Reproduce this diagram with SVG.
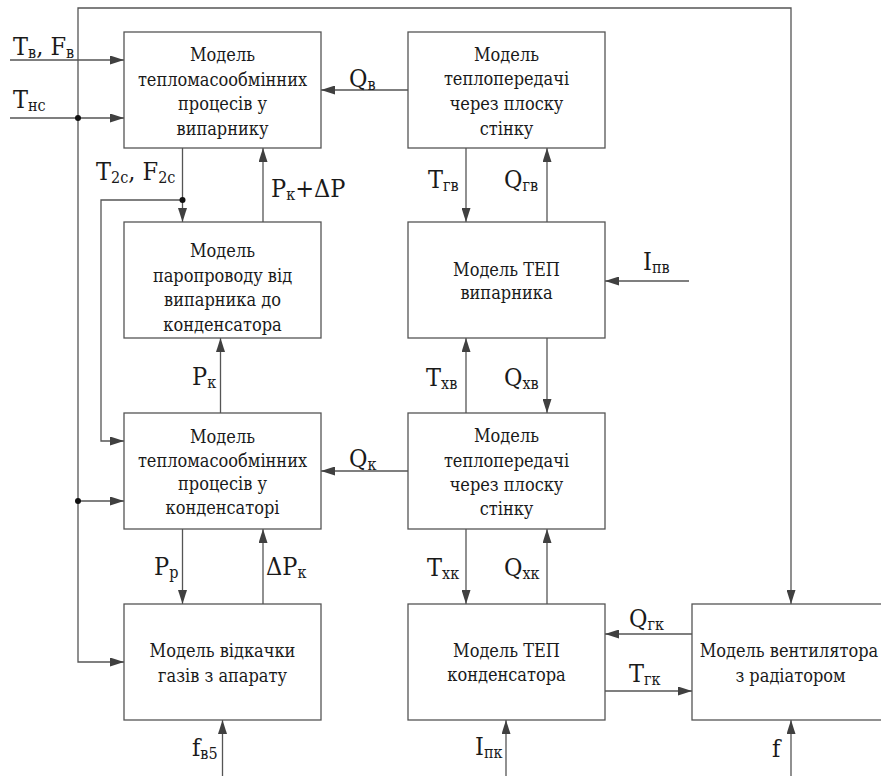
<svg xmlns="http://www.w3.org/2000/svg" width="881" height="776" viewBox="0 0 881 776">
<defs>
<marker id="ah" markerWidth="14" markerHeight="9" refX="14" refY="4.5" orient="auto" markerUnits="userSpaceOnUse">
<path d="M0,0 L14,4.5 L0,9 Z" fill="#404040"/>
</marker>
<style>
.box{fill:#fff;stroke:#555;stroke-width:1.3}
.bt{font-family:"DejaVu Serif Condensed","DejaVu Serif",serif;font-stretch:condensed;font-size:18px;fill:#1a1a1a;text-anchor:middle}
.ln{fill:none;stroke:#555;stroke-width:1.3}
.ar{marker-end:url(#ah)}
.lb{font-family:"DejaVu Serif Condensed","DejaVu Serif",serif;font-stretch:condensed;font-size:25px;fill:#1a1a1a}
.sb{font-size:16px}
.dot{fill:#111}
</style>
</defs>
<rect width="881" height="776" fill="#fff"/>
<g id="connectors">
<path class="ln ar" d="M10,60 H124"/>
<path class="ln ar" d="M10,118 H124"/>
<path class="ln ar" d="M78,118 V8 H791 V604"/>
<path class="ln ar" d="M78,118 V662 H124"/>
<path class="ln ar" d="M78,501 H124"/>
<path class="ln ar" d="M182.5,148 V222"/>
<path class="ln ar" d="M182.5,200 H101 V441 H124"/>
<path class="ln ar" d="M263,222 V148"/>
<path class="ln ar" d="M220.5,413 V338"/>
<path class="ln ar" d="M182.5,529 V604"/>
<path class="ln ar" d="M263,604 V529"/>
<path class="ln ar" d="M222.5,776 V720"/>
<path class="ln ar" d="M408,90 H321"/>
<path class="ln ar" d="M466,148 V222"/>
<path class="ln ar" d="M547,222 V148"/>
<path class="ln ar" d="M689,281 H605"/>
<path class="ln ar" d="M466,413 V338"/>
<path class="ln ar" d="M547,338 V413"/>
<path class="ln ar" d="M408,471 H321"/>
<path class="ln ar" d="M466,529 V604"/>
<path class="ln ar" d="M547,604 V529"/>
<path class="ln ar" d="M692,634 H605"/>
<path class="ln ar" d="M605,691 H692"/>
<path class="ln ar" d="M506,776 V720"/>
<path class="ln ar" d="M791,776 V720"/>
<circle class="dot" cx="78" cy="118" r="3"/>
<circle class="dot" cx="78" cy="501" r="3"/>
<circle class="dot" cx="182.5" cy="200" r="3"/>
</g>
<g id="n1">
<rect class="box" x="124" y="32" width="197" height="116"/>
<text class="bt" x="222.5" y="61">Модель</text>
<text class="bt" x="222.5" y="85.5">тепломасообмінних</text>
<text class="bt" x="222.5" y="110">процесів у</text>
<text class="bt" x="222.5" y="134.5">випарнику</text>
</g>
<g id="n2">
<rect class="box" x="408" y="32" width="197" height="116"/>
<text class="bt" x="506.5" y="60.5">Модель</text>
<text class="bt" x="506.5" y="85">теплопередачі</text>
<text class="bt" x="506.5" y="110">через плоску</text>
<text class="bt" x="506.5" y="135">стінку</text>
</g>
<g id="n3">
<rect class="box" x="124" y="222" width="197" height="116"/>
<text class="bt" x="222.5" y="257">Модель</text>
<text class="bt" x="222.5" y="281.5">паропроводу від</text>
<text class="bt" x="222.5" y="306">випарника до</text>
<text class="bt" x="222.5" y="330.5">конденсатора</text>
</g>
<g id="n4">
<rect class="box" x="408" y="222" width="197" height="116"/>
<text class="bt" x="506.5" y="275.5">Модель ТЕП</text>
<text class="bt" x="506.5" y="299">випарника</text>
</g>
<g id="n5">
<rect class="box" x="124" y="413" width="197" height="116"/>
<text class="bt" x="222.5" y="443">Модель</text>
<text class="bt" x="222.5" y="466.5">тепломасообмінних</text>
<text class="bt" x="222.5" y="490">процесів у</text>
<text class="bt" x="222.5" y="514">конденсаторі</text>
</g>
<g id="n6">
<rect class="box" x="408" y="413" width="197" height="116"/>
<text class="bt" x="506.5" y="442">Модель</text>
<text class="bt" x="506.5" y="466.5">теплопередачі</text>
<text class="bt" x="506.5" y="490.5">через плоску</text>
<text class="bt" x="506.5" y="515">стінку</text>
</g>
<g id="n7">
<rect class="box" x="124" y="604" width="197" height="116"/>
<text class="bt" x="222.5" y="656.5">Модель відкачки</text>
<text class="bt" x="222.5" y="681.5">газів з апарату</text>
</g>
<g id="n8">
<rect class="box" x="408" y="604" width="197" height="116"/>
<text class="bt" x="506.5" y="656.5">Модель ТЕП</text>
<text class="bt" x="506.5" y="680.5">конденсатора</text>
</g>
<g id="n9">
<rect class="box" x="692" y="604" width="197" height="116"/>
<text class="bt" x="789" y="656.5">Модель вентилятора</text>
<text class="bt" x="790.5" y="681.5">з радіатором</text>
</g>
<g id="labels">
<text class="lb" x="13" y="55">T<tspan class="sb" dy="3">в</tspan><tspan dy="-3">, F</tspan><tspan class="sb" dy="3">в</tspan></text>
<text class="lb" x="13" y="108">T<tspan class="sb" dy="3">нс</tspan></text>
<text class="lb" x="96" y="180">T<tspan class="sb" dy="3">2c</tspan><tspan dy="-3">, F</tspan><tspan class="sb" dy="3">2c</tspan></text>
<text class="lb" x="271" y="197">P<tspan class="sb" dy="3">к</tspan><tspan dy="-3">+ΔP</tspan></text>
<text class="lb" x="192" y="385">P<tspan class="sb" dy="3">к</tspan></text>
<text class="lb" x="154" y="575">P<tspan class="sb" dy="3">р</tspan></text>
<text class="lb" x="266" y="575">ΔP<tspan class="sb" dy="3">к</tspan></text>
<text class="lb" x="192" y="756">f<tspan class="sb" dy="3">в5</tspan></text>
<text class="lb" x="349" y="87">Q<tspan class="sb" dy="3">в</tspan></text>
<text class="lb" x="428" y="188">T<tspan class="sb" dy="3">гв</tspan></text>
<text class="lb" x="504" y="188">Q<tspan class="sb" dy="3">гв</tspan></text>
<text class="lb" x="643" y="270">I<tspan class="sb" dy="3">пв</tspan></text>
<text class="lb" x="426" y="386">T<tspan class="sb" dy="3">хв</tspan></text>
<text class="lb" x="504" y="386">Q<tspan class="sb" dy="3">хв</tspan></text>
<text class="lb" x="349" y="467">Q<tspan class="sb" dy="3">к</tspan></text>
<text class="lb" x="427" y="576">T<tspan class="sb" dy="3">хк</tspan></text>
<text class="lb" x="504" y="576">Q<tspan class="sb" dy="3">хк</tspan></text>
<text class="lb" x="475" y="755">I<tspan class="sb" dy="3">пк</tspan></text>
<text class="lb" x="629" y="627">Q<tspan class="sb" dy="3">гк</tspan></text>
<text class="lb" x="629" y="682">T<tspan class="sb" dy="3">гк</tspan></text>
<text class="lb" x="772" y="757">f</text>
</g>
</svg>
